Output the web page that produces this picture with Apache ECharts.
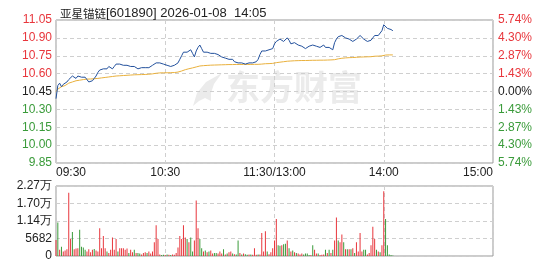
<!DOCTYPE html>
<html><head><meta charset="utf-8">
<script src="https://cdn.jsdelivr.net/npm/echarts@6/dist/echarts.min.js"></script>
<style>html,body{margin:0;padding:0;background:#fff}#c{width:549px;height:262px}</style>
</head><body><div id="c"></div>
<script>
const titleName = '亚星锚链';
const titleInfo = '[601890] 2026-01-08  14:05';
const prevClose = 10.45;
const timeLabels = ['09:30', '10:30', '11:30/13:00', '14:00', '15:00'];
const priceLabels = ['9.85', '10.00', '10.15', '10.30', '10.45', '10.60', '10.75', '10.90', '11.05'];
const pctLabels = ['5.74', '4.30', '2.87', '1.43', '0.00', '1.43', '2.87', '4.30', '5.74'];
const volLabels = ['0', '5682', '1.14万', '1.70万', '2.27万'];

const prices = [
10.39,10.50,10.52,10.49,10.51,10.50,10.53,10.55,10.56,10.58,
10.57,10.56,10.58,10.58,10.57,10.58,10.57,10.55,10.53,10.52,
10.54,10.56,10.58,10.61,10.63,10.62,10.64,10.65,10.64,10.66,
10.66,10.64,10.66,10.68,10.67,10.68,10.67,10.67,10.66,10.67,
10.66,10.66,10.65,10.66,10.65,10.64,10.64,10.65,10.64,10.65,
10.66,10.65,10.66,10.67,10.68,10.69,10.69,10.69,10.68,10.68,
10.67,10.67,10.66,10.66,10.66,10.67,10.68,10.69,10.72,10.75,
10.78,10.79,10.78,10.79,10.80,10.77,10.74,10.79,10.82,10.84,
10.81,10.78,10.78,10.78,10.77,10.77,10.78,10.77,10.77,10.76,
10.75,10.74,10.74,10.73,10.72,10.72,10.71,10.72,10.70,10.70,
10.69,10.70,10.69,10.69,10.68,10.69,10.69,10.68,10.69,10.69,
10.70,10.72,10.76,10.79,10.80,10.79,10.79,10.80,10.80,10.81,
10.85,10.87,10.87,10.89,10.88,10.87,10.88,10.90,10.88,10.85,
10.86,10.86,10.85,10.84,10.83,10.83,10.82,10.81,10.82,10.83,
10.83,10.84,10.84,10.83,10.82,10.82,10.83,10.84,10.82,10.81,
10.82,10.82,10.80,10.86,10.89,10.91,10.91,10.92,10.91,10.90,
10.90,10.89,10.88,10.87,10.88,10.89,10.90,10.92,10.91,10.89,
10.88,10.87,10.88,10.88,10.90,10.92,10.92,10.92,10.93,10.96,
11.01,11.00,10.98,10.97,10.97,10.96
];

const avgPrices = [
10.45,10.47,10.48,10.49,10.50,10.50,10.51,10.52,10.525,10.53,
10.535,10.54,10.54,10.545,10.545,10.55,10.552,10.554,10.555,10.555,
10.556,10.557,10.558,10.56,10.562,10.564,10.566,10.568,10.57,10.572,
10.574,10.576,10.578,10.58,10.581,10.582,10.583,10.584,10.585,10.586,
10.587,10.588,10.589,10.59,10.59,10.591,10.591,10.592,10.592,10.593,
10.594,10.595,10.597,10.598,10.60,10.603,10.605,10.606,10.606,10.607,
10.607,10.607,10.607,10.608,10.608,10.609,10.611,10.613,10.617,10.622,
10.628,10.633,10.637,10.641,10.645,10.648,10.651,10.656,10.660,10.664,
10.666,10.667,10.668,10.669,10.670,10.671,10.672,10.672,10.673,10.673,
10.674,10.674,10.675,10.675,10.675,10.676,10.676,10.676,10.676,10.677,
10.677,10.677,10.677,10.677,10.677,10.677,10.677,10.677,10.677,10.678,
10.678,10.678,10.679,10.680,10.681,10.683,10.684,10.684,10.685,10.686,
10.688,10.692,10.694,10.696,10.698,10.700,10.702,10.704,10.705,10.706,
10.707,10.708,10.708,10.709,10.709,10.710,10.710,10.710,10.711,10.711,
10.711,10.712,10.712,10.712,10.713,10.713,10.713,10.713,10.714,10.714,
10.714,10.715,10.715,10.717,10.721,10.724,10.726,10.729,10.731,10.732,
10.733,10.734,10.735,10.735,10.736,10.737,10.737,10.739,10.740,10.740,
10.741,10.741,10.741,10.742,10.744,10.746,10.747,10.747,10.748,10.749,
10.753,10.756,10.757,10.757,10.757,10.757
];

const volumes = [
5200,10900,2000,3000,1500,1800,2200,20500,5500,7800,
2200,2400,2500,8500,3000,2800,2000,1500,2200,1200,
2000,2300,1800,1500,9000,2500,6500,2500,1500,1000,
2000,6000,2000,5500,1500,2500,2500,2500,2000,2400,
1000,2000,1200,2000,1000,1000,800,500,1000,1200,
1000,1500,800,1500,4500,10000,5500,500,300,400,
300,500,400,300,500,400,1000,2800,6500,5500,
10000,6000,5500,4500,6000,1500,5000,18000,9000,5500,
2500,1500,1800,1200,1500,1800,800,1000,1000,800,
1500,800,2200,500,800,1200,1500,800,600,500,
5000,1000,500,800,600,400,500,500,400,2500,
400,500,500,7500,1500,8000,1500,600,1200,2500,
5000,12000,3500,3300,3500,3800,4000,5000,2500,1500,
1800,1200,1000,800,500,800,500,800,800,300,
300,3500,2000,800,800,300,400,500,2000,1000,
2000,1000,2000,5000,12500,5000,4500,7000,4500,2200,
2200,2200,2200,2500,1000,4500,1500,7500,1500,2000,
2000,500,1000,3500,9500,5500,2000,1500,1200,3500,
21000,12000,3500,500,300,200
];

const volDir = [
1,-1,1,-1,1,1,1,1,1,-1,
1,1,1,-1,-1,-1,-1,1,1,1,
1,-1,1,1,1,1,1,1,-1,1,
1,1,1,1,-1,1,1,1,1,1,
-1,1,1,-1,1,-1,-1,1,1,1,
-1,1,1,1,1,1,1,1,-1,-1,
1,-1,1,-1,1,1,1,1,1,1,
1,1,-1,1,-1,-1,1,1,1,-1,
-1,1,-1,1,-1,1,1,-1,-1,1,
1,1,-1,1,-1,1,1,-1,1,-1,
-1,1,-1,1,-1,-1,1,-1,1,1,
1,-1,1,1,1,1,-1,1,1,1,
1,1,-1,-1,1,-1,-1,1,-1,1,
-1,1,-1,1,1,1,-1,-1,-1,-1,
1,-1,1,1,-1,1,1,1,-1,1,
-1,1,-1,1,1,-1,1,1,-1,1,
-1,1,-1,1,-1,1,1,1,1,-1,
-1,1,1,1,1,1,-1,1,-1,1,
1,-1,-1,-1,-1,-1
];

const RED = '#e8363c';
const GREEN = '#3a9b3a';
const TXT = '#222';
const FONT = 'Liberation Sans';
const GRIDC = '#cfcfcf';
const WM = '#ebebeb';

const chart = echarts.init(document.getElementById('c'), null, {renderer: 'canvas'});
const toRel = p => Math.round((p - prevClose) * 100000) / 1000;
const priceData = prices.map((p, i) => [i, toRel(p)]);
const avgData = avgPrices.map((p, i) => [i, toRel(p)]);
const volData = volumes.map((v, i) => ({value: [i, v], itemStyle: {color: volDir[i] > 0 ? RED : GREEN}}));
const relColor = v => { v = Number(v); return v > 0 ? RED : (v < 0 ? GREEN : TXT); };
const dashed = {show: true, lineStyle: {color: GRIDC, type: [4, 3], width: 1}};

chart.setOption({
  animation: false,
  title: {text: '{a|' + titleName + '}{b|' + titleInfo + '}', left: 55, top: 2,
    textStyle: {fontWeight: 'normal', rich: {
      a: {fontSize: 11.5, fontWeight: 'normal', color: TXT, fontFamily: 'Noto Sans CJK SC'},
      b: {fontSize: 13, fontWeight: 'normal', color: TXT, fontFamily: FONT}
    }}},
  graphic: [
    {type: 'text', left: 226, top: 70, z: 0, style: {text: '东方财富', fontSize: 34, fontWeight: 'bold', fill: WM, fontFamily: 'Noto Sans CJK SC'}},
    {type: 'polygon', z: 0, shape: {points: [[193, 106], [197, 93], [206, 82], [222, 73], [214, 84], [211, 93], [211, 101], [205, 98], [199, 101]]}, style: {fill: WM}}
  ],
  grid: [
    {left: 56, right: 56, top: 20, height: 143, show: true, borderColor: '#999', borderWidth: 1, backgroundColor: 'transparent'},
    {left: 56, right: 56, top: 186, height: 70, show: true, borderColor: '#999', borderWidth: 1, backgroundColor: 'transparent'}
  ],
  xAxis: [
    {type: 'value', gridIndex: 0, min: 0, max: 240, interval: 60,
     axisLine: {show: false}, axisTick: {show: false}, splitLine: dashed,
     axisLabel: {formatter: v => timeLabels[Math.round(v / 60)], margin: 4, color: TXT, fontSize: 12, fontFamily: FONT, alignMinLabel: 'left', alignMaxLabel: 'right'}},
    {type: 'value', gridIndex: 1, min: 0, max: 240, interval: 60,
     axisLine: {show: false}, axisTick: {show: false}, splitLine: dashed, axisLabel: {show: false}}
  ],
  yAxis: [
    {type: 'value', gridIndex: 0, min: -60, max: 60, interval: 15, position: 'left',
     axisLine: {show: false}, axisTick: {show: false}, splitLine: dashed,
     axisLabel: {formatter: v => priceLabels[Math.round((v + 60) / 15)], color: relColor, margin: 4, fontSize: 12, fontFamily: FONT}},
    {type: 'value', gridIndex: 0, min: -60, max: 60, interval: 15, position: 'right',
     axisLine: {show: false}, axisTick: {show: false}, splitLine: {show: false},
     axisLabel: {formatter: v => pctLabels[Math.round((v + 60) / 15)] + '%', color: relColor, margin: 5, fontSize: 12, fontFamily: FONT}},
    {type: 'value', gridIndex: 1, min: 0, max: 22728, interval: 5682, position: 'left',
     axisLine: {show: false}, axisTick: {show: false}, splitLine: dashed,
     axisLabel: {formatter: v => volLabels[Math.round(v / 5682)], color: TXT, margin: 4, fontSize: 12, fontFamily: FONT}}
  ],
  series: [
    {type: 'line', xAxisIndex: 0, yAxisIndex: 0, data: avgData, showSymbol: false, lineStyle: {color: '#e9b03c', width: 1}, z: 3},
    {type: 'line', xAxisIndex: 0, yAxisIndex: 0, data: priceData, showSymbol: false, lineStyle: {color: '#22509c', width: 1}, z: 4},
    {type: 'bar', xAxisIndex: 1, yAxisIndex: 2, data: volData, barWidth: 1, z: 3}
  ]
});
</script></body></html>
